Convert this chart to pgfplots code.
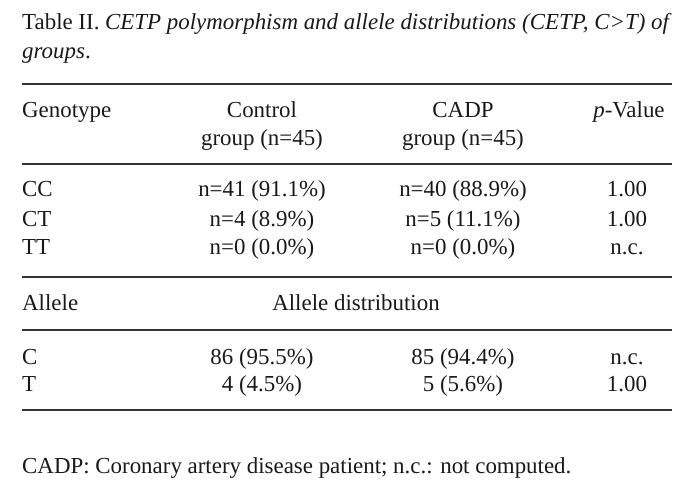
\documentclass[border=0pt]{standalone}
\usepackage{pgfplots}
\pgfplotsset{compat=1.18}
\usepackage{fontspec}
\setmainfont{Liberation Serif}
\tikzset{tx/.style={font=\fontsize{23}{27}\selectfont, inner sep=0pt, text=black!90}}
\begin{document}
\begin{tikzpicture}
\begin{axis}[
  width=696bp, height=481bp, scale only axis,
  xmin=0, xmax=696, ymin=0, ymax=481, y dir=reverse,
  hide axis, clip=false,
]
\addplot[draw=none, forget plot] coordinates {(0,0) (696,481)};
% rules
\addplot[black!80, line width=1.8bp] coordinates {(22,84) (672,84)};
\addplot[black!80, line width=1.4bp] coordinates {(22,164) (672,164)};
\addplot[black!80, line width=1.4bp] coordinates {(22,277) (672,277)};
\addplot[black!80, line width=1.4bp] coordinates {(22,330) (672,330)};
\addplot[black!80, line width=1.4bp] coordinates {(22,410) (672,410)};
% title
\node[tx, anchor=base west] at (axis cs:22,30) {Table II. \textit{CETP polymorphism and allele distributions (CETP, C>T) of}};
\node[tx, anchor=base west] at (axis cs:22,59) {\textit{groups}.};
% header
\node[tx, anchor=base west] at (axis cs:22,117) {Genotype};
\node[tx, anchor=base] at (axis cs:262,117) {Control};
\node[tx, anchor=base] at (axis cs:262,145) {group (n=45)};
\node[tx, anchor=base] at (axis cs:463,117) {CADP};
\node[tx, anchor=base] at (axis cs:463,145) {group (n=45)};
\node[tx, anchor=base] at (axis cs:629,117) {\textit{p}-Value};
% genotype rows
\node[tx, anchor=base west] at (axis cs:22,196) {CC};
\node[tx, anchor=base west] at (axis cs:22,226) {CT};
\node[tx, anchor=base west] at (axis cs:22,254) {TT};
\node[tx, anchor=base] at (axis cs:262,196) {n=41 (91.1\%)};
\node[tx, anchor=base] at (axis cs:262,226) {n=4 (8.9\%)};
\node[tx, anchor=base] at (axis cs:262,254) {n=0 (0.0\%)};
\node[tx, anchor=base] at (axis cs:463,196) {n=40 (88.9\%)};
\node[tx, anchor=base] at (axis cs:463,226) {n=5 (11.1\%)};
\node[tx, anchor=base] at (axis cs:463,254) {n=0 (0.0\%)};
\node[tx, anchor=base] at (axis cs:627,196) {1.00};
\node[tx, anchor=base] at (axis cs:627,226) {1.00};
\node[tx, anchor=base] at (axis cs:627,254) {n.c.};
% allele
\node[tx, anchor=base west] at (axis cs:22,310) {Allele};
\node[tx, anchor=base] at (axis cs:356,310) {Allele distribution};
\node[tx, anchor=base west] at (axis cs:22,364) {C};
\node[tx, anchor=base west] at (axis cs:22,391) {T};
\node[tx, anchor=base] at (axis cs:262,364) {86 (95.5\%)};
\node[tx, anchor=base] at (axis cs:262,391) {4 (4.5\%)};
\node[tx, anchor=base] at (axis cs:463,364) {85 (94.4\%)};
\node[tx, anchor=base] at (axis cs:463,391) {5 (5.6\%)};
\node[tx, anchor=base] at (axis cs:627,364) {n.c.};
\node[tx, anchor=base] at (axis cs:627,391) {1.00};
% footnote
\node[tx, anchor=base west] at (axis cs:22,473) {CADP: Coronary artery disease patient; n.c.: not computed.};
\end{axis}
\end{tikzpicture}
\end{document}
